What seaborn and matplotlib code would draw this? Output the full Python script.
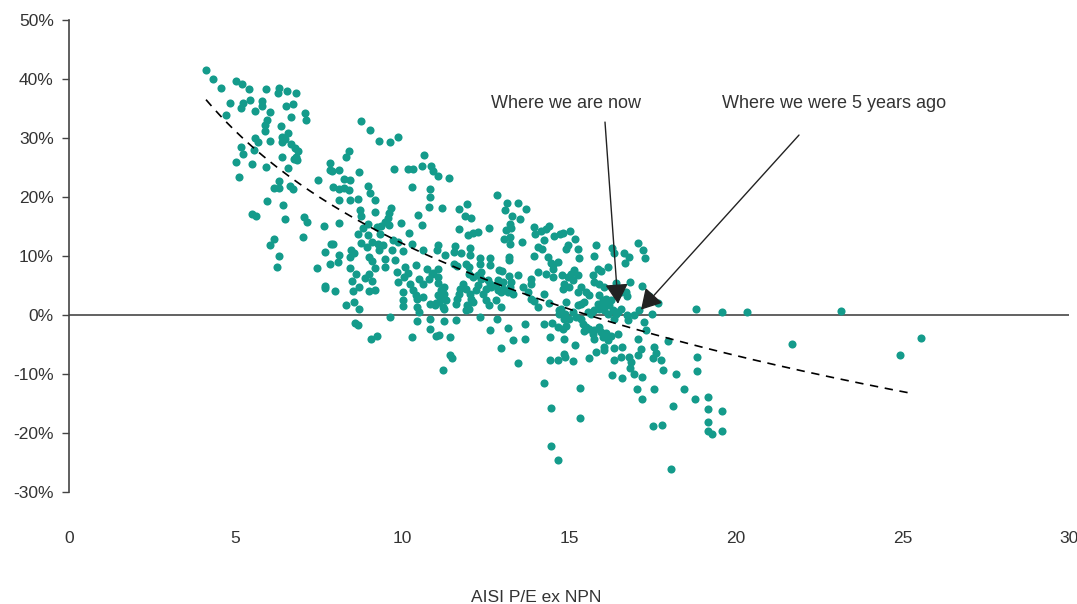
#!/usr/bin/env python
# encoding: utf-8
"""
Scatter of forward returns vs AISI P/E ex NPN, with a log trendline
"""

import numpy as np
import matplotlib
matplotlib.use("Agg")
import matplotlib.pyplot as plt
import seaborn as sns

sns.set_style("white")
plt.rcParams['font.family'] = ['Liberation Sans', 'DejaVu Sans']
plt.rcParams['axes.unicode_minus'] = False

DOT = '#149b8b'
INK = '#333333'

# P/E (x) and return in % (y), split by P/E range
pe_a = [4.11, 4.32, 4.56, 5.01, 5.19, 5.40, 5.91, 6.30, 6.27, 6.54, 6.81, 4.83, 4.71, 5.22, 5.16,
        5.43, 5.79, 5.79, 5.58, 6.03, 6.51, 6.72, 6.66, 7.08, 7.11, 5.94, 5.88, 5.88, 6.36, 6.57,
        6.39, 6.39, 6.48, 6.03, 5.58, 5.67, 6.66, 6.78, 6.87, 6.81, 6.75, 6.84, 5.16, 5.22, 5.55,
        5.01, 5.49, 5.91, 6.39, 6.57, 5.10, 6.30, 6.15, 6.30, 6.63, 6.72, 7.47, 5.94, 6.42, 5.49,
        5.61, 6.48, 7.05, 7.14, 7.65, 7.02, 6.15, 6.03, 6.30, 6.24, 7.44, 7.68, 7.83, 7.68, 7.83,
        7.83, 7.86]
ret_a = [41.5, 40.0, 38.5, 39.7, 39.2, 38.3, 38.3, 38.5, 37.6, 38.0, 37.6, 35.9, 33.9, 35.9, 35.1,
         36.4, 36.3, 35.4, 34.6, 34.4, 35.4, 35.8, 33.6, 34.2, 33.1, 33.1, 32.2, 31.2, 32.0, 30.8,
         30.2, 29.3, 29.8, 29.5, 30.0, 29.3, 29.0, 28.3, 27.8, 26.8, 26.4, 26.3, 28.5, 27.3, 28.0,
         25.9, 25.6, 25.1, 26.8, 24.9, 23.4, 22.7, 21.5, 21.5, 21.9, 21.4, 22.9, 19.3, 18.6, 17.1,
         16.8, 16.3, 16.6, 15.8, 15.1, 13.2, 12.9, 11.9, 10.0, 8.1, 8.0, 10.7, 8.6, 4.9, 25.8,
         24.6, 12.0]

pe_b = [8.76, 9.03, 9.30, 9.63, 9.87, 8.40, 8.31, 7.89, 8.10, 8.70, 9.75, 10.17, 10.32, 10.65,
        10.59, 10.86, 10.92, 11.07, 11.40, 8.25, 8.43, 8.97, 7.92, 8.10, 8.25, 8.40, 9.03, 9.18,
        10.29, 10.83, 10.83, 10.80, 11.19, 8.10, 8.43, 8.67, 8.73, 8.76, 9.18, 9.60, 9.66, 9.57,
        10.47, 10.59, 8.10, 8.82, 8.97, 9.24, 9.36, 9.48, 9.60, 9.96, 8.67, 8.97, 9.33, 10.20,
        8.76, 8.94, 9.09, 9.27, 9.42, 9.72, 9.87, 10.29, 10.62, 11.07, 11.04, 11.28, 7.92, 8.10,
        8.07, 8.46, 8.55, 8.43, 9.00, 9.09, 9.30, 9.69, 9.48, 9.78, 10.02, 8.43, 8.61, 8.49,
        9.18, 9.00, 8.88, 9.09, 9.48, 9.84, 9.87, 10.08, 10.17, 10.05, 10.41, 10.74, 10.89, 11.07,
        11.07, 10.50, 10.62, 10.80, 10.23, 10.32, 11.07, 11.25, 11.16, 7.68, 7.98, 8.70, 8.52,
        9.00, 9.18, 10.02, 10.41, 10.44, 10.62, 11.07, 11.16, 11.25, 8.31, 8.55, 8.70, 10.02,
        10.02, 10.44, 10.50, 10.83, 11.01, 11.22, 9.63, 8.58, 8.67, 10.44, 10.83, 11.25, 10.83,
        9.06, 9.24, 10.29, 11.01, 11.10, 11.43, 11.43, 11.22, 11.49]
ret_b = [32.9, 31.4, 29.5, 29.3, 30.2, 27.8, 26.8, 24.4, 24.6, 24.2, 24.7, 24.7, 24.7, 27.1,
         25.3, 25.3, 24.4, 23.6, 23.2, 23.1, 22.9, 21.9, 21.7, 21.4, 21.5, 21.2, 20.7, 19.5,
         21.7, 21.4, 20.0, 18.3, 18.1, 19.5, 19.5, 19.7, 17.8, 16.8, 17.5, 17.3, 18.1, 16.4,
         16.9, 15.3, 15.6, 14.7, 15.4, 14.9, 15.1, 15.8, 15.3, 15.6, 13.7, 13.6, 13.7, 13.9,
         12.2, 11.5, 12.4, 12.0, 11.9, 12.7, 12.4, 12.0, 11.0, 11.9, 11.0, 10.2, 12.0, 10.2,
         9.0, 11.0, 10.5, 9.8, 9.8, 9.2, 11.0, 11.0, 9.5, 9.3, 10.8, 8.0, 6.9, 5.8,
         8.0, 6.9, 6.3, 5.8, 8.1, 7.3, 5.6, 8.1, 7.1, 6.4, 8.5, 7.8, 6.9, 7.8,
         6.4, 6.1, 5.3, 6.1, 5.3, 4.2, 5.4, 4.7, 4.2, 4.6, 4.1, 4.7, 4.1,
         4.1, 4.2, 3.9, 3.4, 2.7, 3.1, 3.4, 2.7, 3.6, 1.7, 2.2, 1.0, 2.5,
         1.5, 1.4, 0.5, 1.9, 2.0, 1.4, -0.3, -1.4, -1.7, -1.0, -0.7, -1.0, -2.4,
         -4.1, -3.6, -3.7, -3.6, -3.4, -3.7, -6.8, -9.3, -7.3]

pe_c = [11.70, 11.94, 12.84, 13.14, 13.47, 13.71, 13.08, 13.29, 13.53, 11.88, 12.06, 11.70, 12.60,
        11.97, 12.12, 12.27, 13.11, 13.23, 13.26, 13.05, 13.23, 13.23, 13.59, 13.95, 13.98, 14.16,
        14.31, 14.40, 14.55, 14.73, 14.25, 14.07, 14.19, 11.58, 11.55, 11.76, 12.03, 12.03, 12.33,
        12.33, 12.63, 12.63, 11.91, 12.00, 11.55, 11.64, 13.20, 13.20, 13.95, 14.37, 14.46, 14.67,
        14.52, 14.07, 14.31, 13.47, 12.90, 12.99, 10.92, 12.00, 12.12, 12.27, 12.36, 12.36, 12.57,
        12.63, 12.87, 13.02, 13.20, 13.26, 13.62, 13.86, 13.86, 11.82, 11.73, 11.70, 11.64, 11.61,
        11.91, 12.03, 12.06, 12.12, 11.94, 11.91, 12.00, 12.21, 12.27, 12.42, 12.51, 12.66, 12.81,
        12.87, 12.96, 13.02, 13.17, 13.32, 13.23, 11.31, 11.10, 11.25, 10.98, 12.51, 12.60, 12.81,
        12.96, 13.77, 13.86, 13.95, 14.07, 14.25, 14.40, 14.70, 11.61, 12.33, 12.84, 12.63, 12.96,
        13.17, 13.32, 13.68, 13.68, 14.25, 14.49, 14.43, 14.67, 13.47, 14.43, 14.67]
ret_c = [18.0, 18.8, 20.3, 19.0, 19.0, 18.0, 17.8, 16.8, 16.3, 16.8, 16.4, 14.6, 14.7,
         13.6, 13.9, 14.1, 14.4, 15.4, 14.7, 12.9, 13.2, 12.0, 12.4, 14.9, 13.7, 14.2,
         14.6, 15.1, 13.4, 13.7, 12.7, 11.5, 11.2, 11.7, 10.7, 10.5, 11.4, 10.2, 9.7,
         8.6, 9.7, 8.5, 8.6, 8.1, 8.6, 8.3, 9.8, 9.3, 10.0, 9.8, 8.8, 9.0,
         7.8, 7.3, 6.9, 6.8, 7.6, 7.5, 7.1, 6.9, 6.4, 6.8, 7.3, 6.1, 5.9,
         5.3, 5.9, 5.6, 6.6, 5.6, 4.7, 6.1, 5.3, 5.3, 4.4, 3.6, 2.7, 1.9,
         4.4, 3.6, 2.7, 2.2, 1.7, 0.8, 1.0, 4.2, 5.1, 3.6, 4.4, 4.7, 5.1,
         4.2, 3.9, 4.4, 3.9, 3.6, 4.7, 2.5, 2.2, 1.0, 1.7, 2.5, 1.7, 2.5,
         1.4, 3.9, 2.7, 2.4, 1.4, 3.6, 2.0, 0.8, -0.8, -0.3, -0.7, -2.5, -5.6,
         -2.2, -4.2, -4.1, -1.5, -1.5, -1.4, -3.7, -2.0, -8.1, -7.6, -7.6]

pe_d = [14.82, 15.03, 15.18, 14.97, 14.91, 15.27, 15.81, 16.29, 16.35, 17.07, 17.22, 17.28, 15.75,
        15.30, 14.52, 16.65, 16.80, 16.68, 16.17, 15.15, 15.06, 14.97, 15.27, 15.12, 14.85, 14.82,
        15.00, 14.52, 14.79, 15.72, 15.87, 15.96, 15.75, 15.90, 16.05, 16.83, 17.19, 16.41, 15.36,
        15.27, 15.51, 15.60, 15.45, 15.90, 16.02, 16.11, 16.26, 15.87, 16.05, 16.20, 16.56, 16.71,
        16.74, 17.40, 17.67, 14.91, 15.27, 15.36, 14.76, 14.70, 14.88, 15.12, 15.21, 15.36, 15.00,
        14.85, 15.57, 15.66, 15.75, 15.90, 16.05, 16.17, 16.32, 16.41, 16.56, 16.47, 16.35, 16.74,
        16.77, 16.95, 17.10, 17.49, 17.25, 17.31, 14.82, 14.91, 15.42, 15.51, 15.45, 15.60, 15.75,
        15.72, 15.90, 15.96, 16.11, 16.26, 16.47, 16.02, 16.17, 16.05, 16.05, 17.07, 14.85, 15.18,
        15.75, 15.81, 15.60, 16.35, 16.59, 16.56, 16.80, 16.86, 17.07, 17.16, 17.55, 17.61, 17.52,
        17.76, 17.82, 17.97, 14.85, 14.88, 15.12, 16.35, 16.83, 16.95, 17.19, 16.29, 16.59, 14.25,
        15.33, 17.04, 17.19, 17.55, 14.46, 15.33, 17.52, 17.79, 14.46, 14.67]
ret_d = [13.9, 14.2, 12.9, 11.9, 11.2, 11.2, 11.9, 11.4, 10.5, 12.2, 11.0, 9.7, 10.0,
         9.7, 8.5, 10.5, 9.8, 8.8, 8.1, 7.6, 6.9, 6.4, 6.8, 5.9, 5.3, 4.4,
         4.7, 6.4, 6.8, 6.8, 7.8, 7.5, 5.6, 5.3, 4.7, 5.6, 4.9, 5.4, 4.7,
         3.9, 3.9, 3.4, 2.2, 3.4, 2.5, 2.7, 2.5, 1.9, 1.9, 1.7, 3.9, 3.9,
         3.2, 3.2, 2.0, 2.2, 1.7, 1.9, 1.0, 0.2, 0.2, 0.5, -0.3, -0.7, -0.7,
         -0.7, 0.5, 0.2, 0.8, 1.0, 0.8, 0.2, 0.8, 0.2, 1.0, 0.5, -0.7, 0.0,
         -0.8, 0.0, 0.8, 0.2, -1.2, -2.5, -2.4, -1.9, -1.5, -2.0, -2.7, -2.4, -2.5,
         -3.2, -2.0, -2.9, -3.1, -3.6, -3.2, -3.7, -4.2, -5.4, -5.9, -4.1, -4.1, -5.1,
         -4.1, -6.3, -7.3, -5.6, -5.4, -7.1, -7.1, -8.0, -6.8, -5.8, -5.4, -6.4, -7.3,
         -7.6, -9.3, -4.4, -6.6, -7.1, -7.8, -7.6, -9.0, -10.0, -10.5, -10.2, -10.7, -11.5,
         -12.4, -12.5, -14.2, -12.5, -15.8, -17.5, -18.8, -18.6, -22.2, -24.6]

pe_e = [18.81, 19.59, 20.34, 18.21, 18.84, 18.84, 18.45, 18.78, 19.17, 18.12, 19.17, 19.59, 19.17,
        19.17, 19.29, 19.59, 23.16, 21.69, 24.93, 25.56, 18.06]
ret_e = [1.0, 0.5, 0.5, -10.0, -7.1, -9.5, -12.5, -14.2, -13.9, -15.4, -15.9, -16.3, -18.1,
         -19.7, -20.2, -19.7, 0.7, -4.9, -6.8, -3.9, -26.1]

pe = np.array(pe_a + pe_b + pe_c + pe_d + pe_e)
ret = np.array(ret_a + ret_b + ret_c + ret_d + ret_e)

y_ticks = [-30, -20, -10, 0, 10, 20, 30, 40, 50]
x_ticks = [0, 5, 10, 15, 20, 25, 30]

fig = plt.figure(figsize=(10.77, 6.04), dpi=100)
ax = fig.add_axes([69 / 1077, 1 - 492 / 604, 1000 / 1077, 472 / 604])

ax.axhline(0, color='#555555', lw=1.3, zorder=1)
sns.scatterplot(x=pe, y=ret, color=DOT, s=34, linewidth=0, ax=ax, zorder=3)

# logarithmic trendline (least squares on ln(P/E)), over the data range
b, a = np.polyfit(np.log(pe), ret, 1)
xs = np.linspace(pe.min(), 25.35, 200)
ax.plot(xs, a + b * np.log(xs), color='black', lw=1.2, dashes=(5, 4), zorder=4)

ax.set_xlim(0, 30)
ax.set_ylim(-30, 50)
ax.set_yticks(y_ticks)
ax.set_yticklabels([f"{v}%" for v in y_ticks])
ax.set_xticks(x_ticks)
ax.set_xticklabels([str(v) for v in x_ticks])
ax.tick_params(axis='y', left=True, length=5, width=1, color='#444444', direction='out',
               labelsize=12.5, labelcolor=INK, pad=6)
ax.tick_params(axis='x', bottom=True, length=0, labelsize=12.5, labelcolor=INK, pad=28)
for side in ['top', 'right', 'bottom']:
    ax.spines[side].set_visible(False)
ax.spines['left'].set_color('#444444')
ax.spines['left'].set_linewidth(1.2)

arrow = dict(arrowstyle='-|>,head_length=0.95,head_width=0.55', color='#222222',
             lw=1, mutation_scale=13, shrinkA=0, shrinkB=0)
ax.text(12.66, 35.8, "Where we are now", fontsize=13, color=INK, va='center', ha='left')
ax.annotate('', xy=(16.47, 1.9), xytext=(16.08, 32.7), arrowprops=arrow)
ax.text(19.6, 35.8, "Where we were 5 years ago", fontsize=13, color=INK, va='center', ha='left')
ax.annotate('', xy=(17.16, 0.9), xytext=(21.9, 30.5), arrowprops=arrow)

fig.text(536 / 1077, 1 - 597 / 604, "AISI P/E ex NPN", fontsize=12.5, color=INK,
         ha='center', va='center')

fig.savefig("out.png", dpi=100, facecolor='white')
